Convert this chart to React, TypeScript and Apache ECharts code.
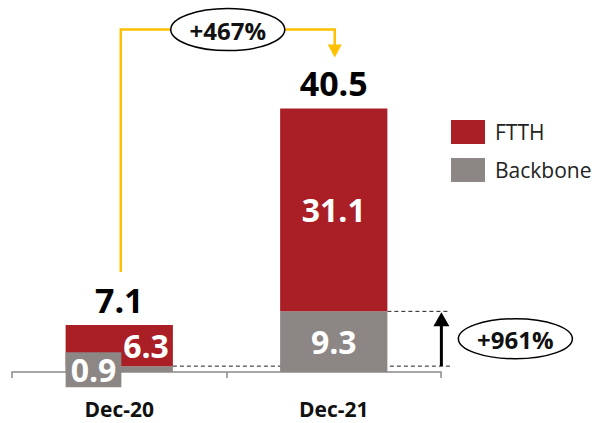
import React, { useEffect, useRef } from "react";
import * as echarts from "echarts";

const categories = ["Dec-20", "Dec-21"];
const seriesNames = ["FTTH", "Backbone"];
const backbone = [0.9, 9.3];
const ftth = [6.3, 31.1];
const totals = ["7.1", "40.5"];
const growthTotal = "+467%";
const growthBackbone = "+961%";

const RED = "#A91F25";
const GRAY = "#8C8684";
const GOLD = "#FFC000";
const FONT = "'Open Sans', 'Noto Sans', sans-serif";

export default function App() {
  const ref = useRef<HTMLDivElement>(null);

  useEffect(() => {
    document.body.style.margin = "0";
    if (!ref.current) return;
    const chart = echarts.init(ref.current, undefined, { renderer: "svg" });

    const bigLabel = { fontFamily: FONT, fontWeight: "bold" as const, fontSize: 32, color: "#fff" };

    chart.setOption({
      animation: false,
      grid: { left: 12, right: 159, top: 46, bottom: 51 },
      legend: {
        data: seriesNames,
        orient: "vertical",
        left: 446,
        top: 115,
        itemWidth: 34,
        itemHeight: 24,
        itemGap: 14,
        icon: "rect",
        textStyle: { fontFamily: FONT, fontSize: 21, color: "#222", padding: [0, 0, 0, 5] },
        selectedMode: false,
      },
      xAxis: {
        type: "category",
        data: categories,
        axisLine: { lineStyle: { color: "#8a8a8a", width: 1.5 } },
        axisTick: { show: true, length: 6, lineStyle: { color: "#8a8a8a", width: 1.5 } },
        axisLabel: { fontFamily: FONT, fontWeight: "bold", fontSize: 21, lineHeight: 21, color: "#111", margin: 26 },
      },
      yAxis: { type: "value", min: 0, max: 50, show: false, splitLine: { show: false } },
      series: [
        {
          name: "Backbone",
          type: "bar",
          stack: "total",
          barWidth: "50%",
          itemStyle: { color: GRAY },
          data: [
            {
              value: backbone[0],
              label: {
                show: true,
                position: [0, -14],
                align: "left",
                verticalAlign: "top",
                backgroundColor: GRAY,
                padding: [1, 5, 1, 5],
                lineHeight: 33,
                ...bigLabel,
              },
            },
            { value: backbone[1], label: { show: true, position: "inside", ...bigLabel } },
          ],
        },
        {
          name: "FTTH",
          type: "bar",
          stack: "total",
          itemStyle: { color: RED },
          data: [
            { value: ftth[0], label: { show: true, position: "insideRight", distance: 4, ...bigLabel } },
            { value: ftth[1], label: { show: true, position: "inside", ...bigLabel } },
          ],
        },
        {
          name: "Total",
          type: "scatter",
          symbolSize: 1,
          silent: true,
          itemStyle: { color: "rgba(0,0,0,0)", opacity: 1 },
          data: categories.map((c, i) => [i, +(backbone[i] + ftth[i]).toFixed(2)]),
          label: {
            show: true,
            position: "top",
            distance: 8,
            opacity: 1,
            formatter: (p: any) => totals[p.dataIndex],
            fontFamily: FONT,
            fontWeight: "bold",
            fontSize: 34,
            color: "#000",
          },
        },
      ],
    });

    const px = (i: number, v: number) =>
      chart.convertToPixel({ xAxisIndex: 0, yAxisIndex: 0 }, [i, v]) as number[];
    const top0 = px(0, backbone[0] + ftth[0]);
    const top1 = px(1, backbone[1] + ftth[1]);
    const bb0 = px(0, backbone[0]);
    const bb1 = px(1, backbone[1]);
    const half = (px(1, 0)[0] - px(0, 0)[0]) * 0.25;

    const x0 = top0[0] + 1.5;
    const x1 = top1[0] + 1;
    const yTop = top1[1] - 79;
    const tip = top1[1] - 51;
    const right1 = top1[0] + half;
    const right0 = top0[0] + half;
    const arrowX = right1 + 54;
    const dashEnd = arrowX + 9;
    const textStyle = { fontFamily: FONT, fontWeight: "bold", fontSize: 24, fill: "#111", align: "center", verticalAlign: "middle" };

    chart.setOption({
      graphic: [
        {
          type: "polyline",
          shape: { points: [[x0, top0[1] - 53], [x0, yTop], [x1, yTop], [x1, tip - 11]] },
          style: { stroke: GOLD, lineWidth: 2.5, fill: "none" },
          silent: true,
        },
        {
          type: "polygon",
          shape: { points: [[x1 - 7, tip - 13], [x1 + 7, tip - 13], [x1, tip]] },
          style: { fill: GOLD },
          silent: true,
        },
        {
          type: "ellipse",
          shape: { cx: (x0 + x1) / 2, cy: yTop, rx: 57, ry: 21 },
          style: { fill: "#fff", stroke: "#000", lineWidth: 1.5 },
          silent: true,
        },
        {
          type: "text",
          style: { text: growthTotal, x: (x0 + x1) / 2, y: yTop + 1, ...textStyle },
          silent: true,
        },
        {
          type: "line",
          shape: { x1: right1, y1: bb1[1], x2: dashEnd, y2: bb1[1] },
          style: { stroke: "#222", lineWidth: 1, lineDash: [4, 3] },
          silent: true,
        },
        {
          type: "line",
          shape: { x1: right0, y1: bb0[1], x2: dashEnd, y2: bb0[1] },
          style: { stroke: "#222", lineWidth: 1, lineDash: [4, 3] },
          silent: true,
        },
        {
          type: "line",
          shape: { x1: arrowX, y1: bb0[1], x2: arrowX, y2: bb1[1] + 13 },
          style: { stroke: "#000", lineWidth: 3 },
          silent: true,
        },
        {
          type: "polygon",
          shape: { points: [[arrowX - 8, bb1[1] + 15], [arrowX + 8, bb1[1] + 15], [arrowX, bb1[1] + 1]] },
          style: { fill: "#000" },
          silent: true,
        },
        {
          type: "ellipse",
          shape: { cx: arrowX + 74, cy: (bb0[1] + bb1[1]) / 2, rx: 57, ry: 20 },
          style: { fill: "#fff", stroke: "#000", lineWidth: 1.5 },
          silent: true,
        },
        {
          type: "text",
          style: { text: growthBackbone, x: arrowX + 74, y: (bb0[1] + bb1[1]) / 2 + 1, ...textStyle },
          silent: true,
        },
      ],
    });

    return () => chart.dispose();
  }, []);

  return <div ref={ref} style={{ width: 600, height: 423 }} />;
}
